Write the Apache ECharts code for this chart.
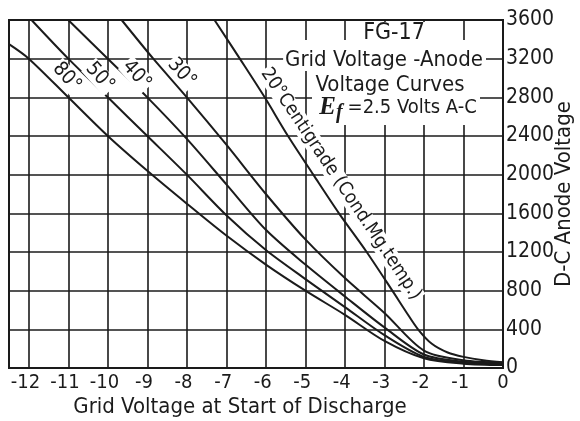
<!DOCTYPE html>
<html>
<head>
<meta charset="utf-8">
<script src="https://cdn.jsdelivr.net/npm/echarts@6/dist/echarts.min.js"></script>
<style>
  html, body { margin: 0; padding: 0; background: #fff; }
  #c { width: 580px; height: 421px; }
</style>
</head>
<body>
<div id="c"></div>
<script>
// FG-17 thyratron: critical grid voltage vs. D-C anode voltage,
// one curve per condensed-mercury temperature.
const tempLabels = ['80°', '50°', '40°', '30°', '20°Centigrade (Cond.Mg.temp.)'];

// [grid volts, anode volts]
const curve80 = [[-12.5, 3350], [-12, 3200], [-11, 2800], [-10, 2400], [-9, 2040], [-8, 1700], [-7, 1370], [-6, 1070], [-5, 800], [-4, 550], [-3, 280], [-2, 100], [-1, 45], [0, 30]];
const curve50 = [[-11.93, 3600], [-11, 3200], [-10, 2800], [-9, 2400], [-8, 2000], [-7, 1580], [-6, 1220], [-5, 920], [-4, 630], [-3, 340], [-2, 115], [-1, 55], [0, 40]];
const curve40 = [[-11, 3600], [-10, 3200], [-9, 2800], [-8, 2370], [-7, 1900], [-6, 1430], [-5, 1070], [-4, 740], [-3, 420], [-2, 140], [-1, 65], [0, 50]];
const curve30 = [[-9.65, 3600], [-8.85, 3200], [-8, 2800], [-7, 2310], [-6, 1800], [-5, 1330], [-4, 930], [-3, 570], [-2, 180], [-1, 80], [0, 55]];
const curve20 = [[-7.3, 3600], [-6.66, 3200], [-6.03, 2800], [-5.44, 2400], [-4.8, 2000], [-4.15, 1600], [-3.45, 1200], [-2.8, 800], [-2.45, 580], [-2.15, 400], [-1.8, 250], [-1.4, 160], [-1, 115], [-0.5, 80], [0, 60]];
const curves = [curve80, curve50, curve40, curve30, curve20];

const gridVoltRange = [-12.5, 0];
const anodeVoltTicks = [0, 3600, 400];

const titleLines = ['FG-17', 'Grid Voltage -Anode', 'Voltage Curves', '=2.5 Volts A-C'];
const xTitle = 'Grid Voltage at Start of Discharge';
const yTitle = 'D-C Anode Voltage';

// --- styling / layout ---
const INK = '#1b1b1b';
const NARROW = "'Liberation Sans Narrow','DejaVu Sans Condensed','Roboto Condensed','Liberation Sans',sans-serif";
const SERIF = "'Liberation Serif','DejaVu Serif',serif";
// where each curve tag sits, in data space, and its slant (degrees)
const tagPlaces = [
  { at: [-11.04, 3010], tilt: -48 },
  { at: [-10.2, 3010], tilt: -48 },
  { at: [-9.27, 3031], tilt: -48 },
  { at: [-8.13, 3052], tilt: -48 },
  { at: [-4.1, 1903], tilt: -56.3 }
];

const chart = echarts.init(document.getElementById('c'), null, { renderer: 'canvas' });

const option = {
  animation: false,
  backgroundColor: '#fff',
  grid: {
    left: 9, top: 20, right: 77, bottom: 53,
    containLabel: false, outerBoundsMode: 'none',
    show: true, borderColor: INK, borderWidth: 2, backgroundColor: '#fff'
  },
  xAxis: {
    type: 'value',
    min: gridVoltRange[0], max: gridVoltRange[1],
    splitNumber: 13, minInterval: 1, maxInterval: 1,
    axisLine: { show: false }, axisTick: { show: false },
    splitLine: { show: true, lineStyle: { color: INK, width: 1.6 } },
    axisLabel: {
      margin: 5,
      formatter: v => {
        if (!Number.isInteger(v)) return '';
        return v < 0 ? '{m|-}{d|' + (-v) + '}{p|-}' : '{d|0}';
      },
      rich: {
        m: { fontFamily: NARROW, fontSize: 20, color: INK },
        d: { fontFamily: NARROW, fontSize: 20, color: INK },
        p: { fontFamily: NARROW, fontSize: 20, color: 'rgba(0,0,0,0)' }
      }
    }
  },
  yAxis: {
    type: 'value', position: 'right',
    min: anodeVoltTicks[0], max: anodeVoltTicks[1], interval: anodeVoltTicks[2],
    axisLine: { show: false }, axisTick: { show: false },
    splitLine: { show: true, lineStyle: { color: INK, width: 1.6 } },
    axisLabel: { margin: 3, fontFamily: NARROW, fontSize: 21, color: INK, formatter: v => String(v) },
    name: yTitle, nameLocation: 'middle', nameRotate: 90, nameGap: 50, nameMoveOverlap: false,
    nameTextStyle: { fontFamily: NARROW, fontSize: 22, color: INK }
  },
  series: curves.map((c, i) => ({
    type: 'line',
    name: tempLabels[i],
    data: c,
    symbol: 'none',
    smooth: 0.3,
    clip: true,
    z: 5,
    lineStyle: { color: INK, width: 2 }
  }))
};

chart.setOption(option);

const toPx = p => chart.convertToPixel({ gridIndex: 0 }, p);

function textEl(text, x, y, opts) {
  return Object.assign({
    type: 'text', x: x, y: y, z: 20,
    style: Object.assign({
      text: text, fill: INK,
      fontFamily: NARROW, fontSize: 21,
      align: 'center', verticalAlign: 'middle',
      textAlign: 'center', textVerticalAlign: 'middle'
    }, opts.style || {})
  }, opts.el || {});
}

const graphics = [];

// white panel behind the title block
graphics.push({ type: 'rect', z: 15, shape: { x: 298, y: 40, width: 188, height: 30 }, style: { fill: '#fff' } });
graphics.push({ type: 'rect', z: 15, shape: { x: 312, y: 68, width: 168, height: 57 }, style: { fill: '#fff' } });
graphics.push({ type: 'rect', z: 15, shape: { x: 352, y: 22, width: 88, height: 20 }, style: { fill: '#fff' } });

graphics.push(textEl(titleLines[0], 394, 33, { style: { fontSize: 23 } }));
graphics.push(textEl(titleLines[1], 384, 60, { style: { fontSize: 22, backgroundColor: '#fff', padding: [0, 2] } }));
graphics.push(textEl(titleLines[2], 390, 85, { style: { fontSize: 22 } }));
graphics.push({
  type: 'text', x: 398, y: 108, z: 20,
  style: {
    text: '{e|E}{f|f}{t|' + titleLines[3] + '}',
    align: 'center', verticalAlign: 'middle', textAlign: 'center', textVerticalAlign: 'middle',
    rich: {
      e: { fontFamily: SERIF, fontSize: 25, fontStyle: 'italic', fontWeight: 'bold', fill: INK, color: INK },
      f: { fontFamily: SERIF, fontSize: 20, fontStyle: 'italic', fontWeight: 'bold', fill: INK, color: INK, padding: [10, 5, 0, 0] },
      t: { fontFamily: NARROW, fontSize: 20, fill: INK, color: INK }
    }
  }
});

// curve tags along the lines
tempLabels.forEach((t, i) => {
  const p = toPx(tagPlaces[i].at);
  graphics.push(textEl(t, p[0], p[1], {
    el: { rotation: tagPlaces[i].tilt * Math.PI / 180 },
    style: { fontSize: i === 4 ? 19 : 20, backgroundColor: '#fff', padding: [0, 1] }
  }));
});

// axis title under the scale
graphics.push(textEl(xTitle, 240, 407, { style: { fontSize: 22 } }));

chart.setOption({ graphic: { elements: graphics } });
</script>
</body>
</html>
